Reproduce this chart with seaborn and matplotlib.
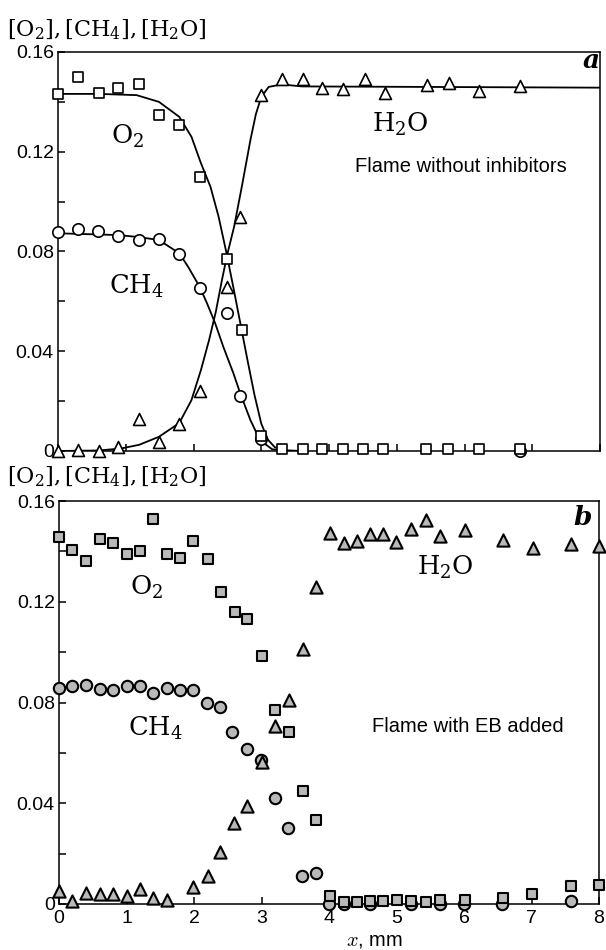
import numpy as np
import pandas as pd
import matplotlib
matplotlib.use("Agg")
import matplotlib.pyplot as plt
import seaborn as sns
from matplotlib.ticker import MultipleLocator, FuncFormatter

# ---------------- data: panel a (flame without inhibitors) ----------------
a_o2_x = [0.0, 0.30, 0.60, 0.89, 1.20, 1.49, 1.79, 2.10, 2.50, 2.71, 3.00,
          3.30, 3.61, 3.90, 4.20, 4.50, 4.80, 5.43, 5.75, 6.22, 6.82]
a_o2_y = [0.1431, 0.150, 0.1434, 0.1457, 0.147, 0.1349, 0.1306, 0.110, 0.0769, 0.0485, 0.006,
          0.001, 0.001, 0.001, 0.001, 0.001, 0.001, 0.001, 0.001, 0.001, 0.001]

a_ch4_x = [0.0, 0.29, 0.59, 0.88, 1.19, 1.49, 1.79, 2.09, 2.49, 2.69, 3.00, 6.82]
a_ch4_y = [0.0877, 0.0890, 0.0881, 0.0862, 0.0846, 0.0850, 0.0790, 0.0652, 0.0552, 0.0222, 0.005, 0.0]

a_h2o_x = [0.0, 0.30, 0.60, 0.89, 1.20, 1.49, 1.79, 2.09, 2.50, 2.69, 3.00,
           3.30, 3.61, 3.90, 4.20, 4.53, 4.82, 5.44, 5.77, 6.22, 6.82]
a_h2o_y = [0.0, 0.0004, 0.0, 0.0015, 0.0127, 0.0037, 0.0107, 0.0242, 0.0659, 0.094, 0.1427,
           0.149, 0.149, 0.1457, 0.1453, 0.149, 0.1437, 0.1466, 0.1477, 0.1443, 0.1463]

# fitted curves
fit_o2_x = [0.0, 0.6, 1.16, 1.49, 1.79, 1.97, 2.11, 2.25, 2.37, 2.49, 2.60, 2.70, 2.80,
            2.90, 3.00, 3.10, 3.20, 3.35, 3.60]
fit_o2_y = [0.1432, 0.1432, 0.1427, 0.1400, 0.1340, 0.1260, 0.1154, 0.1060, 0.0940, 0.0790,
            0.0640, 0.0500, 0.0360, 0.0225, 0.0110, 0.0045, 0.0015, 0.0003, 0.0]

fit_ch4_x = [0.0, 0.88, 1.19, 1.49, 1.79, 1.92, 2.09, 2.20, 2.32, 2.44, 2.59, 2.69, 2.84,
             2.98, 3.16, 3.40]
fit_ch4_y = [0.0873, 0.0866, 0.0858, 0.0846, 0.0793, 0.0739, 0.0659, 0.0592, 0.0512, 0.0418,
             0.0311, 0.0231, 0.0124, 0.0044, 0.0007, 0.0]

fit_h2o_x = [0.0, 0.6, 0.93, 1.2, 1.49, 1.79, 1.97, 2.11, 2.23, 2.33, 2.42, 2.50, 2.60, 2.72,
             2.84, 2.92, 3.00, 3.11, 3.30, 3.60, 8.0]
fit_h2o_y = [0.0, 0.0002, 0.001, 0.0025, 0.0057, 0.0112, 0.0204, 0.0325, 0.0445, 0.0559,
             0.0686, 0.0790, 0.0900, 0.1070, 0.1247, 0.1350, 0.1420, 0.1460, 0.1470, 0.1462,
             0.1457]

# ---------------- data: panel b (flame with EB added) ----------------
b_o2_x = [0.0, 0.19, 0.40, 0.60, 0.80, 1.00, 1.20, 1.39, 1.60, 1.79, 1.99, 2.20, 2.40, 2.60,
          2.79, 3.01, 3.20, 3.41, 3.61, 3.81, 4.01, 4.22, 4.41, 4.60, 4.80, 5.00, 5.21, 5.44,
          5.65, 6.01, 6.58, 7.00, 7.58, 8.00]
b_o2_y = [0.1457, 0.1404, 0.136, 0.1448, 0.1433, 0.1391, 0.140, 0.1527, 0.1388, 0.1373, 0.144,
          0.1371, 0.124, 0.1161, 0.1133, 0.0984, 0.0769, 0.0682, 0.0448, 0.0333, 0.0033, 0.0009,
          0.0009, 0.001, 0.001, 0.0016, 0.001, 0.0008, 0.0016, 0.0016, 0.0023, 0.0038, 0.0071,
          0.0075]

b_ch4_x = [0.0, 0.19, 0.40, 0.60, 0.80, 1.00, 1.20, 1.39, 1.60, 1.79, 1.99, 2.19, 2.39, 2.57,
           2.79, 2.99, 3.20, 3.39, 3.60, 3.80, 4.00, 4.22, 4.60, 5.21, 5.65, 6.00, 6.56, 7.58]
b_ch4_y = [0.0857, 0.0867, 0.0871, 0.0853, 0.0851, 0.0867, 0.0867, 0.0837, 0.0857, 0.0849,
           0.0849, 0.0797, 0.0782, 0.0682, 0.0614, 0.0571, 0.0422, 0.030, 0.0112, 0.0124, 0.0,
           0.0, 0.0, 0.0, 0.0, 0.0, 0.0, 0.001]

b_h2o_x = [0.0, 0.19, 0.40, 0.60, 0.80, 1.00, 1.20, 1.39, 1.60, 1.99, 2.20, 2.39, 2.59, 2.79,
           3.00, 3.20, 3.41, 3.61, 3.81, 4.01, 4.22, 4.41, 4.60, 4.80, 4.99, 5.21, 5.44, 5.65,
           6.01, 6.58, 7.02, 7.58, 8.00]
b_h2o_y = [0.0053, 0.0012, 0.0045, 0.0038, 0.0038, 0.0032, 0.0059, 0.0023, 0.0016, 0.0066,
           0.0111, 0.0207, 0.032, 0.0388, 0.0565, 0.0705, 0.0811, 0.1011, 0.126, 0.1473, 0.1435,
           0.144, 0.1467, 0.1467, 0.1437, 0.1488, 0.1524, 0.146, 0.1484, 0.1447, 0.1415, 0.1428,
           0.1421]

x_ticks = [0, 1, 2, 3, 4, 5, 6, 7, 8]
y_ticks = [0, 0.04, 0.08, 0.12, 0.16]

# ---------------- figure ----------------
sns.set_theme(style="white")
plt.rcParams['font.family'] = ['Liberation Sans', 'DejaVu Sans']
plt.rcParams['axes.linewidth'] = 1.1
plt.rcParams['text.color'] = 'black'
plt.rcParams['axes.labelcolor'] = 'black'

fig = plt.figure(figsize=(6.06, 9.5), dpi=100)
ax_a = fig.add_axes([58/606, 1-451/950, (600-58)/606, (451-52)/950])
ax_b = fig.add_axes([59/606, 1-904/950, (599-59)/606, (904-501)/950])

SERIF = ['DejaVu Serif', 'Liberation Serif']


def scat(ax, xs, ys, marker, size, face, ew):
    df = pd.DataFrame({'x': xs, 'y': ys})
    sns.scatterplot(data=df, x='x', y='y', ax=ax, marker=marker, s=size**2,
                    color=face, edgecolor='black', linewidth=ew, clip_on=False,
                    zorder=4, legend=False)


def curve(ax, xs, ys):
    df = pd.DataFrame({'x': xs, 'y': ys})
    sns.lineplot(data=df, x='x', y='y', ax=ax, sort=False, estimator=None,
                 color='black', linewidth=1.3, zorder=3, legend=False)


# panel a
curve(ax_a, fit_o2_x, fit_o2_y)
curve(ax_a, fit_ch4_x, fit_ch4_y)
curve(ax_a, fit_h2o_x, fit_h2o_y)
scat(ax_a, a_ch4_x, a_ch4_y, 'o', 8.2, 'white', 1.2)
scat(ax_a, a_h2o_x, a_h2o_y, '^', 8.6, 'white', 1.2)
scat(ax_a, a_o2_x, a_o2_y, 's', 7.4, 'white', 1.2)

# panel b
grey = '#b9b9b9'
scat(ax_b, b_ch4_x, b_ch4_y, 'o', 8.2, grey, 1.5)
scat(ax_b, b_h2o_x, b_h2o_y, '^', 8.8, grey, 1.5)
scat(ax_b, b_o2_x, b_o2_y, 's', 7.8, grey, 1.5)

fmt = FuncFormatter(lambda v, p: '0' if abs(v) < 1e-9 else f'{v:.2f}')
for ax in (ax_a, ax_b):
    ax.set_xlim(0, 8)
    ax.set_ylim(0, 0.16)
    ax.set_xticks(x_ticks)
    ax.set_yticks(y_ticks)
    ax.yaxis.set_minor_locator(MultipleLocator(0.02))
    ax.yaxis.set_major_formatter(fmt)
    ax.tick_params(axis='both', which='both', direction='in', length=5, width=1.1,
                   color='black', labelsize=14, labelcolor='black', left=True, bottom=True)
    ax.tick_params(axis='y', pad=3)
    ax.tick_params(axis='x', pad=4)
    for sp in ax.spines.values():
        sp.set_color('black')
        sp.set_linewidth(1.1)
    ax.set_ylabel('')
    ax.set_xlabel('')

ax_a.tick_params(axis='x', labelbottom=False)

ax_b.set_xlabel('$x$, mm', fontsize=14.5, labelpad=1, math_fontfamily='cm', color='black')
ax_b.xaxis.set_label_coords(0.585, -0.066)

ylab = r'$[\mathrm{O_2}], [\mathrm{CH_4}], [\mathrm{H_2O}]$'
fig.text(7/606, 1-30/950, ylab, fontsize=16, ha='left', va='center',
         math_fontfamily='dejavuserif', color='black')
fig.text(7/606, 1-477/950, ylab, fontsize=16, ha='left', va='center',
         math_fontfamily='dejavuserif', color='black')

lab_kw = dict(fontsize=18.5, ha='center', va='center', math_fontfamily='dejavuserif', zorder=5,
              color='black')
ax_a.text(1.02, 0.126, r'$\mathrm{O_2}$', **lab_kw)
ax_a.text(1.16, 0.066, r'$\mathrm{CH_4}$', **lab_kw)
ax_a.text(5.05, 0.131, r'$\mathrm{H_2O}$', **lab_kw)
ax_a.text(5.95, 0.114, 'Flame without inhibitors', fontsize=14.5, ha='center', va='center',
          color='black')
ax_a.text(7.87, 0.1565, 'a', fontsize=19, family=SERIF, style='italic', weight='bold',
          ha='center', va='center', color='black')

ax_b.text(1.3, 0.1257, r'$\mathrm{O_2}$', **lab_kw)
ax_b.text(1.43, 0.0696, r'$\mathrm{CH_4}$', **lab_kw)
ax_b.text(5.72, 0.1337, r'$\mathrm{H_2O}$', **lab_kw)
ax_b.text(6.05, 0.0706, 'Flame with EB added', fontsize=14.5, ha='center', va='center',
          color='black')
ax_b.text(7.75, 0.1535, 'b', fontsize=19, family=SERIF, style='italic', weight='bold',
          ha='center', va='center', color='black')

fig.savefig('out.png', dpi=100)
